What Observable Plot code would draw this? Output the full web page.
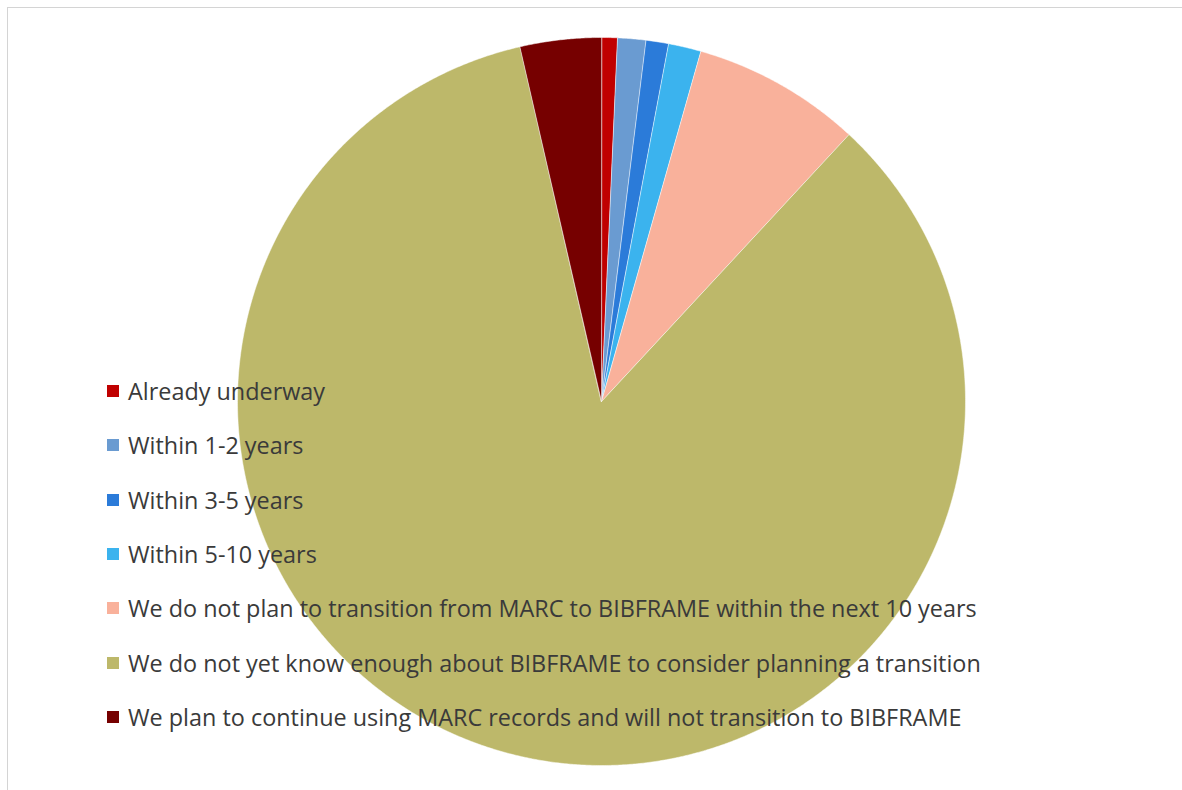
<!DOCTYPE html>
<html>
<head>
<meta charset="utf-8">
<script src="https://cdn.jsdelivr.net/npm/d3@7"></script>
<script src="https://cdn.jsdelivr.net/npm/@observablehq/plot@0.6"></script>
<style>
  html, body { margin: 0; padding: 0; background: #fff; }
  #wrap { position: relative; width: 1182px; height: 790px; overflow: hidden; }
  #frame { position: absolute; left: 7px; top: 7px; width: 1200px; height: 800px;
           border-top: 1px solid #d4d4d4; border-left: 1px solid #d4d4d4; }
  #chart { position: absolute; left: 0; top: 0; }
  #legend { position: absolute; left: 107px; top: 364px; font-family: "Open Sans", Lato, sans-serif;
            font-size: 23.4px; color: #3a3a3a; }
  .row { height: 54.3px; display: flex; align-items: center; white-space: nowrap; }
  .sw { width: 12px; height: 12px; margin-right: 9px; flex: none; }
</style>
</head>
<body>
<div id="wrap">
  <div id="frame"></div>
  <div id="chart"></div>
  <div id="legend"></div>
</div>
<script>
const categories = [
  "Already underway",
  "Within 1-2 years",
  "Within 3-5 years",
  "Within 5-10 years",
  "We do not plan to transition from MARC to BIBFRAME within the next 10 years",
  "We do not yet know enough about BIBFRAME to consider planning a transition",
  "We plan to continue using MARC records and will not transition to BIBFRAME"
];
const values = [0.7, 1.25, 1.0, 1.45, 7.5, 84.5, 3.6];
const colors = ["#C00000", "#6A9BD1", "#2B7BD9", "#3BB3EE", "#F9B19B", "#BDB86A", "#760000"];

const rows = categories.map((label, i) => ({label, value: values[i]}));
const arcs = d3.pie().sort(null).value(d => d.value)(rows);

// Outline points for each wedge (center + arc), in unit-circle coordinates
const pts = [];
for (const a of arcs) {
  const label = a.data.label;
  pts.push({label, x: 0, y: 0});
  const n = Math.max(2, Math.ceil((a.endAngle - a.startAngle) / 0.005));
  for (let k = 0; k <= n; ++k) {
    const t = a.startAngle + (a.endAngle - a.startAngle) * k / n;
    pts.push({label, x: Math.sin(t), y: Math.cos(t)});
  }
}

const plot = Plot.plot({
  width: 1182,
  height: 790,
  marginLeft: 237,
  marginRight: 217,
  marginTop: 37,
  marginBottom: 25,
  x: {domain: [-1, 1], axis: null},
  y: {domain: [-1, 1], axis: null},
  color: {domain: categories, range: colors},
  style: {background: "transparent", overflow: "visible"},
  marks: [
    Plot.line(pts, {x: "x", y: "y", z: "label", fill: "label", stroke: "white",
                    strokeWidth: 0.5, curve: "linear-closed"})
  ]
});
document.getElementById("chart").appendChild(plot);

const legend = d3.select("#legend");
categories.forEach((c, i) => {
  const r = legend.append("div").attr("class", "row");
  r.append("div").attr("class", "sw").style("background", colors[i]);
  r.append("span").text(c);
});
</script>
</body>
</html>
